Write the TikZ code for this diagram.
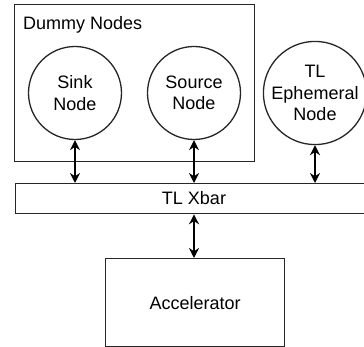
\documentclass[tikz,border=0pt]{standalone}
\usepackage{fontspec}
\setmainfont{Liberation Sans}
\usetikzlibrary{arrows.meta}
\begin{document}
\begin{tikzpicture}[x=1pt,y=-1pt,
  box/.style={draw=black!85, line width=1.3pt, fill=white, inner sep=0pt},
  circ/.style={draw=black!85, line width=1.3pt, circle, minimum size=93pt, inner sep=0pt, align=center, font=\fontsize{18}{21.5}\selectfont},
  lbl/.style={font=\fontsize{18}{21.5}\selectfont, inner sep=0pt},
  conn/.style={line width=1.3pt, {Stealth[length=10pt,width=10pt]}-{Stealth[length=10pt,width=10pt]}}]
\useasboundingbox (0,0) rectangle (364,347);
\fill[white] (0,0) rectangle (364,347);
% Dummy Nodes container
\node[box, minimum width=240pt, minimum height=157pt, anchor=north west] (dummy) at (14,4) {};
\node[lbl, anchor=west] (dlabel) at (23,25) {Dummy Nodes};
\node[circ] (sink) at (75,93) {Sink\\Node};
\node[circ] (source) at (194,93) {Source\\Node};
\node[circ] (eph) at (315,93) {TL\\Ephemeral\\Node};
% Xbar
\node[box, minimum width=352pt, minimum height=30pt, anchor=north west] (xbar) at (14.5,183) {};
\node[lbl] (xlabel) at (194,198) {TL Xbar};
% Accelerator
\node[box, minimum width=179pt, minimum height=88pt, anchor=north west, lbl] (acc) at (105,258) {Accelerator};
% connectors
\draw[conn] (sink.south) -- (sink.south |- xbar.north);
\draw[conn] (source.south) -- (source.south |- xbar.north);
\draw[conn] (eph.south) -- (eph.south |- xbar.north);
\draw[conn] (source.south |- xbar.south) -- (acc.north -| source.south);
\end{tikzpicture}
\end{document}
